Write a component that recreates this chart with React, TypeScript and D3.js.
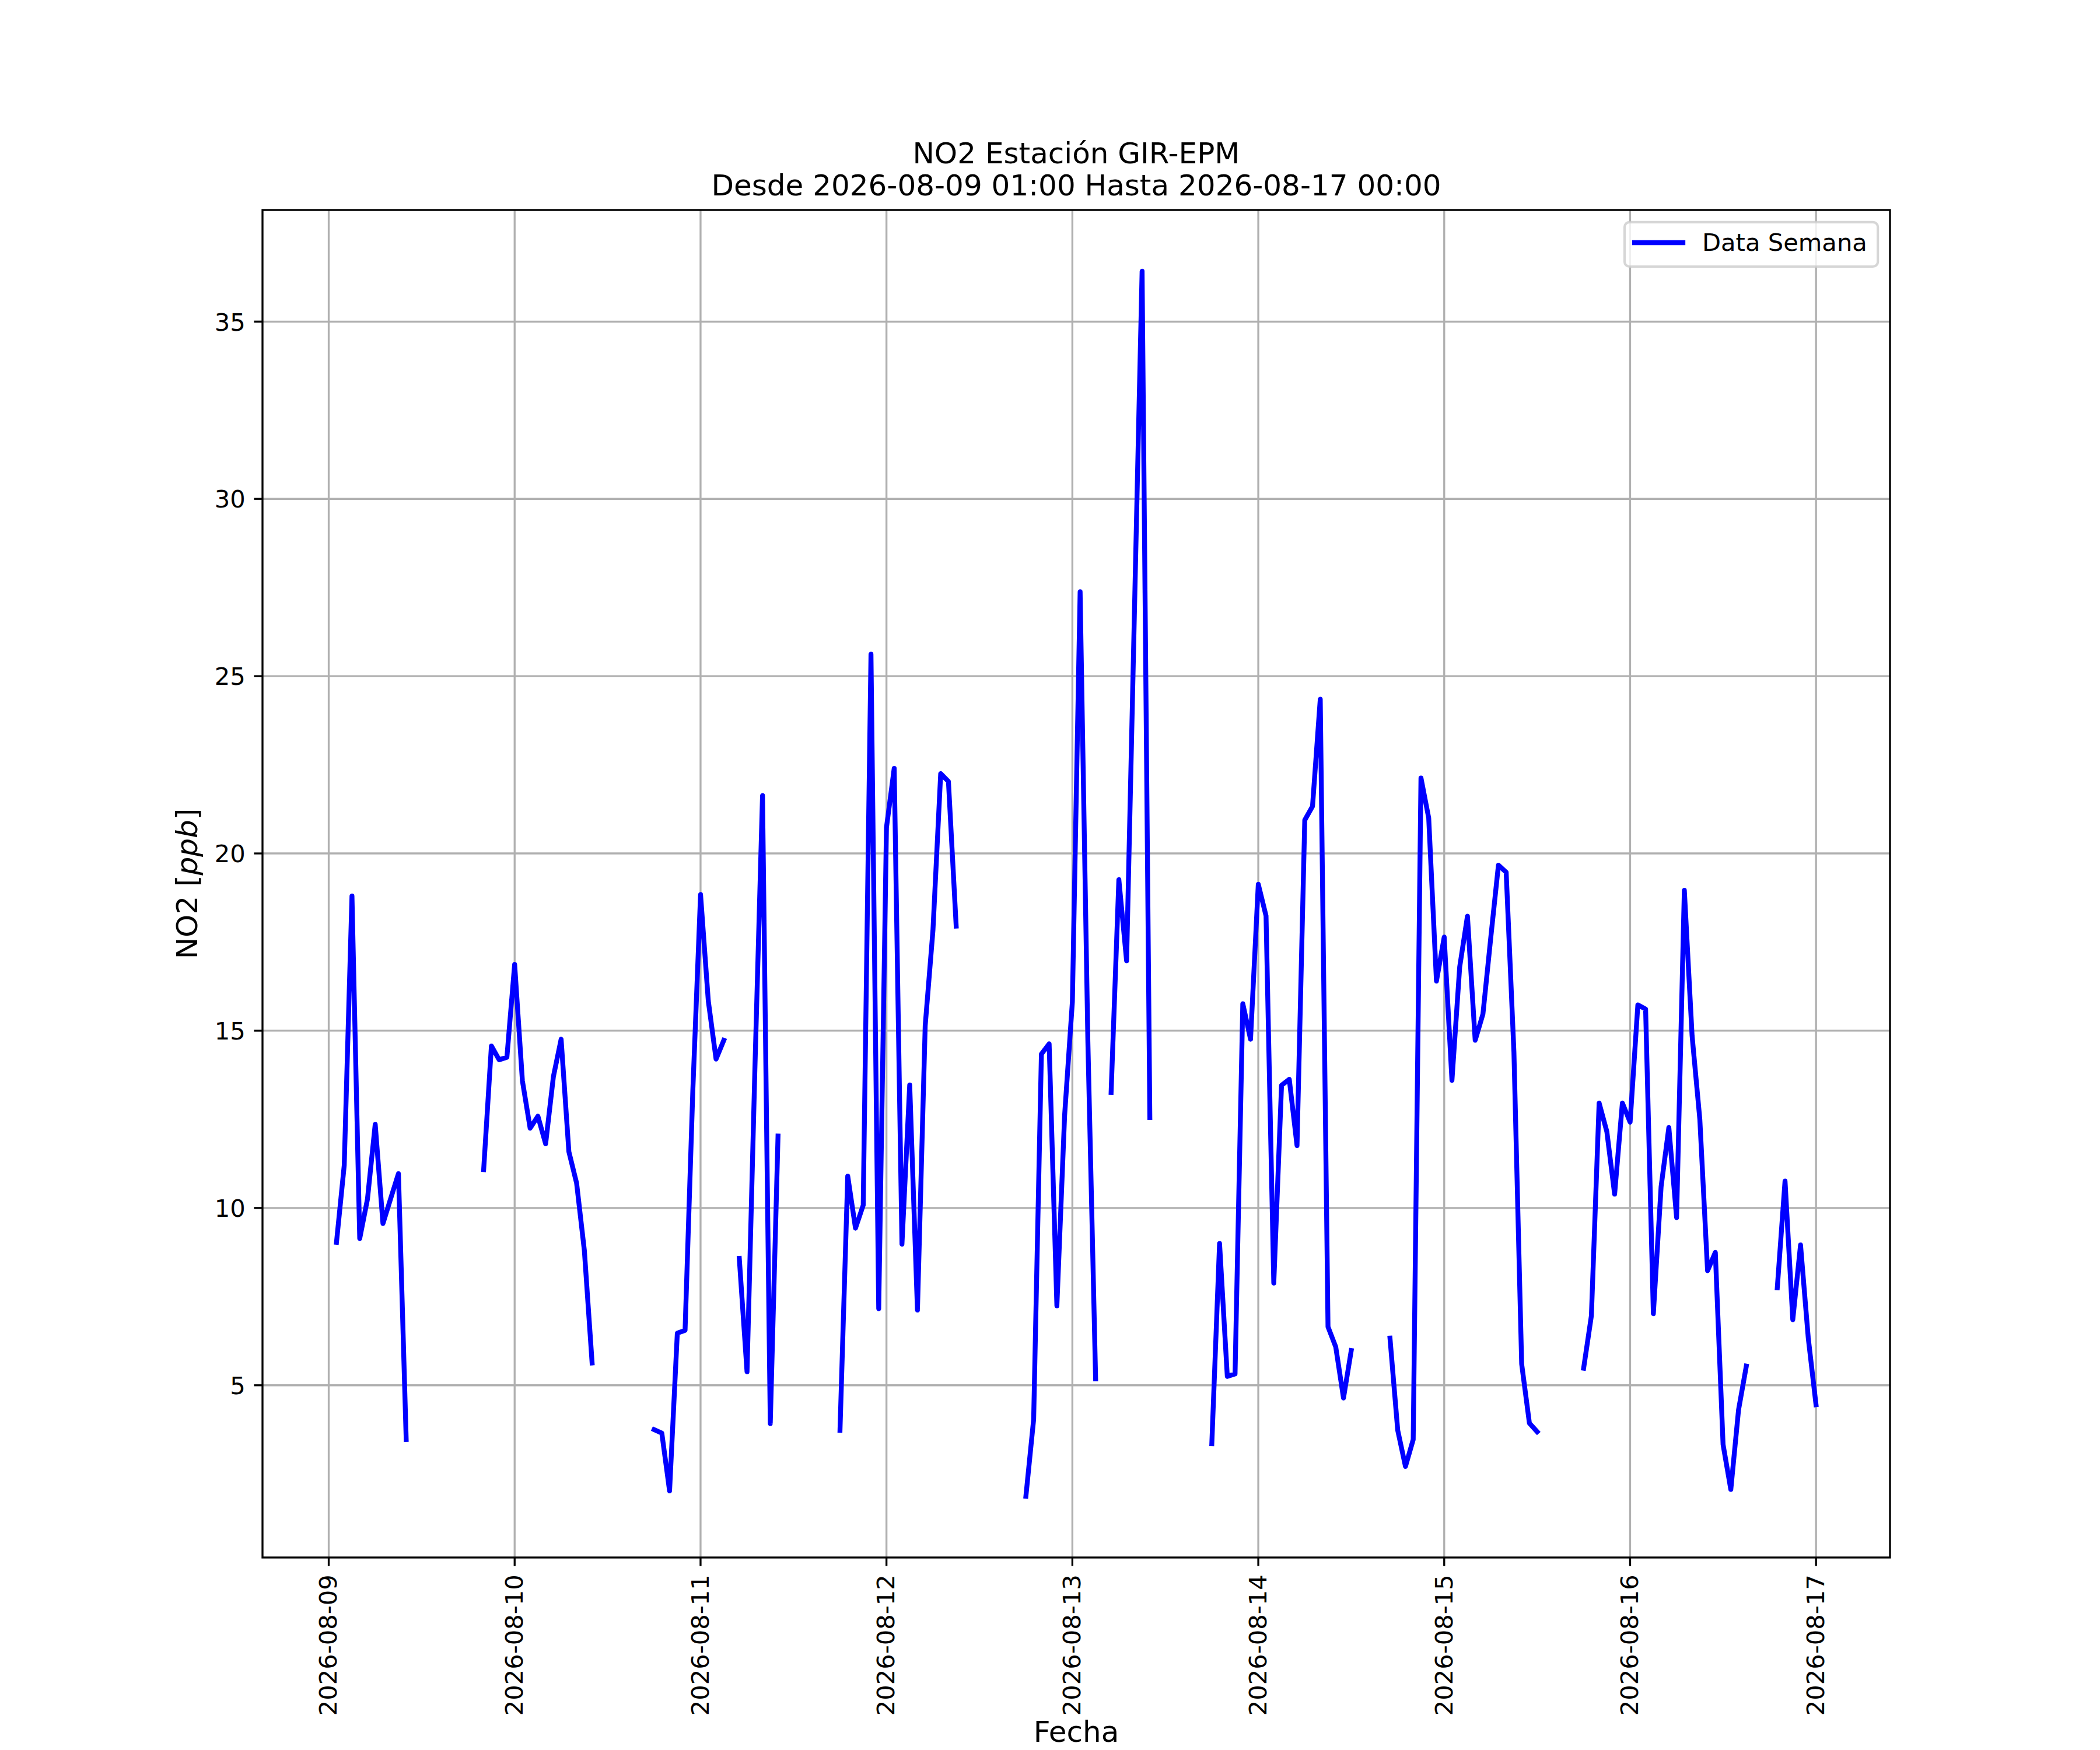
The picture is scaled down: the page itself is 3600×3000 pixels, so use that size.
import React from "react";
import * as d3 from "d3";

// NO2 hourly readings (ppb), one array per day, index = hour of day, null = no data
const aug09 = [null, 9.03, 11.2, 18.8, 9.14, 10.25, 12.36, 9.56, 10.27, 10.97, 3.47, null,
  null, null, null, null, null, null, null, null, 11.08, 14.57, 14.18, 14.25];
const aug10 = [16.87, 13.59, 12.25, 12.59, 11.81, 13.7, 14.76, 11.59, 10.7, 8.8, 5.63, null,
  null, null, null, null, null, null, 3.75, 3.65, 2.02, 6.47, 6.55, 13.3];
const aug11 = [18.84, 15.84, 14.2, 14.73, null, 8.58, 5.38, 13.8, 21.63, 3.92, 12.03, null,
  null, null, null, null, null, null, 3.73, 10.9, 9.43, 10.08, 25.62, 7.16];
const aug12 = [20.73, 22.4, 8.98, 13.47, 7.12, 15.14, 17.83, 22.25, 22.03, 17.95, null, null,
  null, null, null, null, null, null, 1.87, 4.04, 14.34, 14.63, 7.24, 12.62];
const aug13 = [15.82, 27.38, 14.7, 5.18, null, 13.26, 19.26, 16.97, 26.7, 36.42, 12.55, null,
  null, null, null, null, null, null, 3.35, 9.0, 5.25, 5.32, 15.76, 14.76];
const aug14 = [19.13, 18.24, 7.88, 13.46, 13.63, 11.76, 20.94, 21.33, 24.35, 6.65, 6.08, 4.64,
  5.98, null, null, null, null, 6.33, 3.73, 2.71, 3.47, 22.13, 21.0, 16.4];
const aug15 = [17.64, 13.6, 16.8, 18.23, 14.73, 15.47, 17.6, 19.67, 19.47, 14.4, 5.6, 3.93,
  3.69, null, null, null, null, null, 5.48, 6.96, 12.96, 12.15, 10.39, 12.96];
const aug16 = [12.42, 15.73, 15.61, 7.02, 10.6, 12.27, 9.73, 18.96, 14.86, 12.5, 8.23, 8.75,
  3.33, 2.06, 4.31, 5.54, null, null, null, 7.75, 10.76, 6.85, 8.96, 6.33];
const aug17 = [4.45];

const days = ["2026-08-09", "2026-08-10", "2026-08-11", "2026-08-12", "2026-08-13",
  "2026-08-14", "2026-08-15", "2026-08-16", "2026-08-17"];
const dayValues = [aug09, aug10, aug11, aug12, aug13, aug14, aug15, aug16, aug17];

const periodStart = "2026-08-09 01:00";
const periodEnd = "2026-08-17 00:00";
const yTicks = [5, 10, 15, 20, 25, 30, 35];

const title1 = "NO2 Estación GIR-EPM";
const title2 = `Desde ${periodStart} Hasta ${periodEnd}`;
const seriesName = "Data Semana";

type Pt = { t: Date; v: number | null };

const parseDay = d3.utcParse("%Y-%m-%d");
const parseStamp = d3.utcParse("%Y-%m-%d %H:%M");
const fmtDay = d3.utcFormat("%Y-%m-%d");

const points: Pt[] = [];
days.forEach((day, i) => {
  const base = parseDay(day) as Date;
  dayValues[i].forEach((v, h) => {
    points.push({ t: d3.utcHour.offset(base, h), v });
  });
});

const W = 3600;
const H = 3000;
const left = 450;
const right = 3240;
const top = 360;
const bottom = 2670;

const pt = 300 / 72;
const font = "DejaVu Sans, Verdana, sans-serif";

const App: React.FC = () => {
  const t0 = (parseStamp(periodStart) as Date).getTime();
  const t1 = (parseStamp(periodEnd) as Date).getTime();
  const tPad = (t1 - t0) * 0.05;
  const x = d3.scaleUtc().domain([new Date(t0 - tPad), new Date(t1 + tPad)]).range([left, right]);

  const vals = points.filter((p) => p.v != null).map((p) => p.v as number);
  const vMin = d3.min(vals) as number;
  const vMax = d3.max(vals) as number;
  const vPad = (vMax - vMin) * 0.05;
  const y = d3.scaleLinear().domain([vMin - vPad, vMax + vPad]).range([bottom, top]);

  const line = d3
    .line<Pt>()
    .defined((d) => d.v != null)
    .x((d) => x(d.t))
    .y((d) => y(d.v as number));

  const xTicks = days.map((d) => parseDay(d) as Date);
  const tickLen = 3.5 * pt;
  const lw = 0.8 * pt;
  const tickFs = 10 * pt;
  const labelFs = 12 * pt;

  const legR = right - 0.5 * tickFs;
  const legT = top + 0.5 * tickFs;
  const legL = 2785;
  const legB = 457;

  return (
    <div style={{ position: "absolute", left: 0, top: 0 }}>
      <svg width={W} height={H} style={{ display: "block", background: "#fff" }} fontFamily={font}>
        <rect x={0} y={0} width={W} height={H} fill="#fff" />
        {/* grid */}
        <g stroke="#b0b0b0" strokeWidth={lw}>
          {xTicks.map((t, i) => (
            <line key={"gx" + i} x1={x(t)} x2={x(t)} y1={top} y2={bottom} />
          ))}
          {yTicks.map((v) => (
            <line key={"gy" + v} x1={left} x2={right} y1={y(v)} y2={y(v)} />
          ))}
        </g>
        {/* data */}
        <defs>
          <clipPath id="plotClip">
            <rect x={left} y={top} width={right - left} height={bottom - top} />
          </clipPath>
        </defs>
        <path
          d={line(points) || ""}
          fill="none"
          stroke="#0000ff"
          strokeWidth={2 * pt}
          strokeLinejoin="round"
          strokeLinecap="square"
          clipPath="url(#plotClip)"
        />
        {/* spines */}
        <rect x={left} y={top} width={right - left} height={bottom - top} fill="none" stroke="#000" strokeWidth={lw} />
        {/* x ticks */}
        <g>
          {xTicks.map((t, i) => {
            const px = x(t);
            const ty = bottom + tickLen + 3.5 * pt;
            return (
              <g key={"xt" + i}>
                <line x1={px} x2={px} y1={bottom} y2={bottom + tickLen} stroke="#000" strokeWidth={lw} />
                <text
                  x={px}
                  y={ty}
                  fontSize={tickFs}
                  textAnchor="end"
                  dy="0.33em"
                  transform={`rotate(-90, ${px}, ${ty})`}
                  fill="#000"
                >
                  {fmtDay(t)}
                </text>
              </g>
            );
          })}
        </g>
        {/* y ticks */}
        <g>
          {yTicks.map((v) => (
            <g key={"yt" + v}>
              <line x1={left - tickLen} x2={left} y1={y(v)} y2={y(v)} stroke="#000" strokeWidth={lw} />
              <text x={left - tickLen - 3.5 * pt} y={y(v)} dy="0.365em" fontSize={tickFs} textAnchor="end" fill="#000">
                {v}
              </text>
            </g>
          ))}
        </g>
        {/* axis labels */}
        <text x={(left + right) / 2} y={2986} fontSize={labelFs} textAnchor="middle" fill="#000">
          Fecha
        </text>
        <text
          x={338}
          y={(top + bottom) / 2}
          fontSize={labelFs}
          textAnchor="middle"
          transform={`rotate(-90, 338, ${(top + bottom) / 2})`}
          fill="#000"
        >
          NO2 [<tspan fontStyle="italic">ppb</tspan>]
        </text>
        {/* title */}
        <text x={(left + right) / 2} y={280} fontSize={labelFs} textAnchor="middle" fill="#000">
          {title1}
        </text>
        <text x={(left + right) / 2} y={335} fontSize={labelFs} textAnchor="middle" fill="#000">
          {title2}
        </text>
        {/* legend */}
        <rect
          x={legL}
          y={legT}
          width={legR - legL}
          height={legB - legT}
          rx={0.2 * tickFs}
          fill="#fff"
          fillOpacity={0.8}
          stroke="#cccccc"
          strokeOpacity={0.8}
          strokeWidth={1 * pt}
        />
        <line x1={2802} x2={2885} y1={416} y2={416} stroke="#0000ff" strokeWidth={2 * pt} strokeLinecap="square" />
        <text x={2918} y={430} fontSize={tickFs} fill="#000">
          {seriesName}
        </text>
      </svg>
    </div>
  );
};

export default App;
